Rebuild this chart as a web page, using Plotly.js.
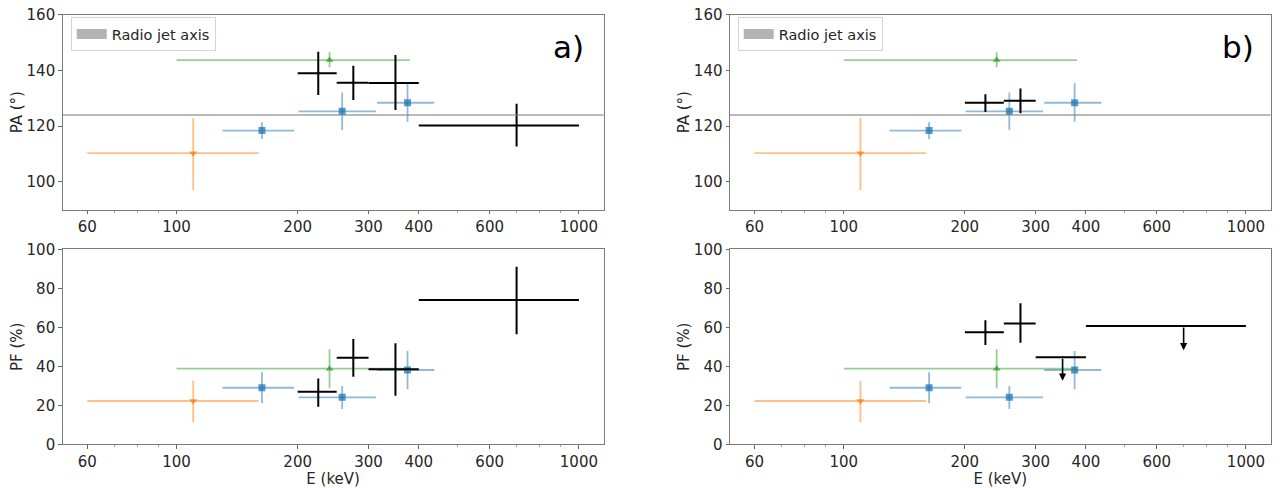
<!DOCTYPE html>
<html>
<head>
<meta charset="utf-8">
<script src="https://cdn.plot.ly/plotly-3.0.1.min.js"></script>
<style>html,body{margin:0;padding:0;background:#fff;}#chart{width:1288px;height:488px;}</style>
</head>
<body>
<div id="chart"></div>
<script>
// ---------------- data ----------------
// orange (down-triangle)
const E_or = [110], E_or_lo = [60], E_or_hi = [160];
const PA_or = [110.3], PA_or_up = [122.8], PA_or_dn = [97.1];
const PF_or = [22.2], PF_or_up = [32.6], PF_or_dn = [11.3];
// blue (squares)
const E_bl = [163, 258, 375], E_bl_lo = [130, 201, 315], E_bl_hi = [196, 313, 437];
const PA_bl = [118.4, 125.3, 128.4], PA_bl_up = [121.4, 132.1, 135.4], PA_bl_dn = [115.4, 118.6, 121.6];
const PF_bl = [29.0, 24.1, 38.1], PF_bl_up = [36.9, 29.9, 47.8], PF_bl_dn = [21.0, 18.1, 28.2];
// green (up-triangle)
const E_gr = [240], E_gr_lo = [100], E_gr_hi = [380];
const PA_gr = [143.7], PA_gr_up = [146.5], PA_gr_dn = [141.1];
const PF_gr = [38.8], PF_gr_up = [48.7], PF_gr_dn = [28.7];
// black, panel a)
const E_ka = [225, 275, 350, 700], E_ka_lo = [200, 250, 300, 400], E_ka_hi = [250, 300, 400, 1000];
const PA_ka = [139.0, 135.6, 135.5, 120.2], PA_ka_up = [146.7, 141.7, 145.5, 128.0], PA_ka_dn = [131.2, 129.4, 125.8, 112.7];
const PF_ka = [27.0, 44.4, 38.5, 74.0], PF_ka_up = [33.8, 54.0, 51.8, 91.1], PF_ka_dn = [19.3, 34.7, 24.9, 56.4];
// black, panel b)
const E_kb = [225, 275], E_kb_lo = [200, 250], E_kb_hi = [250, 300];
const PA_kb = [128.4, 129.1], PA_kb_up = [131.4, 133.5], PA_kb_dn = [125.1, 124.6];
const PF_kb = [57.4, 62.0], PF_kb_up = [63.6, 72.3], PF_kb_dn = [50.9, 52.1];
// black upper limits, panel b)
const E_ul = [350, 700], E_ul_lo = [300, 400], E_ul_hi = [400, 1000];
const PF_ul = [44.6, 60.7], PF_ul_arrow = [12.0, 12.5];
// radio jet axis
const JET_PA = 124;
const jetLabel = 'Radio jet axis';
const panelLabels = ['a)', 'b)'];
const xTickVals = [60, 100, 200, 300, 400, 600, 1000];
const xTickText = ['60', '100', '200', '300', '400', '600', '1000'];
const xMinorVals = [50, 70, 80, 90, 500, 700, 800, 900];
const paTicks = [100, 120, 140, 160];
const pfTicks = [0, 20, 40, 60, 80, 100];

// ---------------- styles ----------------
const FONT = 'DejaVu Sans, Liberation Sans, sans-serif';
const TXT = '#262626';
const C_BLUE = [31, 119, 180], C_ORANGE = [255, 127, 14], C_GREEN = [44, 160, 44];
const rgba = (c, a) => `rgba(${c[0]},${c[1]},${c[2]},${a})`;

function errTrace(E, lo, hi, V, up, dn, xa, ya, opt) {
  return {
    type: 'scatter', mode: 'markers', x: E, y: V, xaxis: xa, yaxis: ya, showlegend: false,
    marker: opt.marker,
    error_x: {type: 'data', symmetric: false, array: E.map((e, i) => hi[i] - e), arrayminus: E.map((e, i) => e - lo[i]),
      width: 0, thickness: opt.th, color: opt.ec},
    error_y: {type: 'data', symmetric: false, array: V.map((v, i) => up[i] - v), arrayminus: V.map((v, i) => v - dn[i]),
      width: 0, thickness: opt.th, color: opt.ec},
    hoverinfo: 'skip'
  };
}
const stOr = {marker: {symbol: 'triangle-down', size: 7, color: rgba(C_ORANGE, 0.75)}, th: 1.8, ec: rgba(C_ORANGE, 0.5)};
const stBl = {marker: {symbol: 'square', size: 7, color: rgba(C_BLUE, 0.75)}, th: 1.8, ec: rgba(C_BLUE, 0.5)};
const stGr = {marker: {symbol: 'triangle-up', size: 7, color: rgba(C_GREEN, 0.75)}, th: 1.8, ec: rgba(C_GREEN, 0.5)};
const stK = {marker: {symbol: 'circle', size: 2, color: '#000'}, th: 2, ec: '#000'};

const traces = [];
// panel a) PA (x, y)
traces.push(errTrace(E_or, E_or_lo, E_or_hi, PA_or, PA_or_up, PA_or_dn, 'x', 'y', stOr));
traces.push(errTrace(E_bl, E_bl_lo, E_bl_hi, PA_bl, PA_bl_up, PA_bl_dn, 'x', 'y', stBl));
traces.push(errTrace(E_gr, E_gr_lo, E_gr_hi, PA_gr, PA_gr_up, PA_gr_dn, 'x', 'y', stGr));
traces.push(errTrace(E_ka, E_ka_lo, E_ka_hi, PA_ka, PA_ka_up, PA_ka_dn, 'x', 'y', stK));
// panel b) PA (x2, y2)
traces.push(errTrace(E_or, E_or_lo, E_or_hi, PA_or, PA_or_up, PA_or_dn, 'x2', 'y2', stOr));
traces.push(errTrace(E_bl, E_bl_lo, E_bl_hi, PA_bl, PA_bl_up, PA_bl_dn, 'x2', 'y2', stBl));
traces.push(errTrace(E_gr, E_gr_lo, E_gr_hi, PA_gr, PA_gr_up, PA_gr_dn, 'x2', 'y2', stGr));
traces.push(errTrace(E_kb, E_kb_lo, E_kb_hi, PA_kb, PA_kb_up, PA_kb_dn, 'x2', 'y2', stK));
// panel a) PF (x3, y3)
traces.push(errTrace(E_or, E_or_lo, E_or_hi, PF_or, PF_or_up, PF_or_dn, 'x3', 'y3', stOr));
traces.push(errTrace(E_bl, E_bl_lo, E_bl_hi, PF_bl, PF_bl_up, PF_bl_dn, 'x3', 'y3', stBl));
traces.push(errTrace(E_gr, E_gr_lo, E_gr_hi, PF_gr, PF_gr_up, PF_gr_dn, 'x3', 'y3', stGr));
traces.push(errTrace(E_ka, E_ka_lo, E_ka_hi, PF_ka, PF_ka_up, PF_ka_dn, 'x3', 'y3', stK));
// panel b) PF (x4, y4)
traces.push(errTrace(E_or, E_or_lo, E_or_hi, PF_or, PF_or_up, PF_or_dn, 'x4', 'y4', stOr));
traces.push(errTrace(E_bl, E_bl_lo, E_bl_hi, PF_bl, PF_bl_up, PF_bl_dn, 'x4', 'y4', stBl));
traces.push(errTrace(E_gr, E_gr_lo, E_gr_hi, PF_gr, PF_gr_up, PF_gr_dn, 'x4', 'y4', stGr));
traces.push(errTrace(E_kb, E_kb_lo, E_kb_hi, PF_kb, PF_kb_up, PF_kb_dn, 'x4', 'y4', stK));
// upper limits: horizontal bars only (arrows added as annotations)
traces.push({
  type: 'scatter', mode: 'markers', x: E_ul, y: PF_ul, xaxis: 'x4', yaxis: 'y4', showlegend: false,
  marker: {size: 2, color: '#000'}, hoverinfo: 'skip',
  error_x: {type: 'data', symmetric: false, array: E_ul.map((e, i) => E_ul_hi[i] - e), arrayminus: E_ul.map((e, i) => e - E_ul_lo[i]),
    width: 0, thickness: 2, color: '#000'}
});
// legend entries (patch-like thick line)
traces.push({type: 'scatter', mode: 'lines', x: [null], y: [null], xaxis: 'x', yaxis: 'y', name: jetLabel,
  line: {color: 'rgba(128,128,128,0.6)', width: 11}, legend: 'legend', showlegend: true, hoverinfo: 'skip'});
traces.push({type: 'scatter', mode: 'lines', x: [null], y: [null], xaxis: 'x2', yaxis: 'y2', name: jetLabel,
  line: {color: 'rgba(128,128,128,0.6)', width: 11}, legend: 'legend2', showlegend: true, hoverinfo: 'skip'});

// ---------------- layout ----------------
const W = 1288, H = 488;
const xL = [62.7 / W, 603.5 / W], xR = [730 / W, 1270.5 / W];
const yT = [1 - 209.7 / H, 1 - 14.7 / H], yB = [1 - 444.3 / H, 1 - 249.3 / H];
const xRange = [Math.log10(60) - 0.0611, 3 + 0.0611];

function xAxis(domain, anchor, withTitle) {
  const a = {
    type: 'log', domain: domain, anchor: anchor, range: xRange,
    tickmode: 'array', tickvals: xTickVals, ticktext: xTickText,
    ticks: 'outside', ticklen: 3.5, tickwidth: 1, tickcolor: '#666',
    minor: {tickmode: 'array', tickvals: xMinorVals, ticks: 'outside', ticklen: 2, tickwidth: 0.8, tickcolor: '#888', showgrid: false},
    showgrid: false, zeroline: false, showline: true, linecolor: '#7a7a7a', linewidth: 1, mirror: true,
    tickfont: {family: FONT, size: 15, color: TXT}
  };
  if (withTitle) a.title = {text: 'E (keV)', font: {family: FONT, size: 15, color: TXT}, standoff: 6};
  return a;
}
function yAxis(domain, anchor, range, tv, title, standoff) {
  return {
    domain: domain, anchor: anchor, range: range, tickmode: 'array', tickvals: tv,
    ticks: 'outside', ticklen: 3.5, tickwidth: 1, tickcolor: '#666',
    showgrid: false, zeroline: false, showline: true, linecolor: '#7a7a7a', linewidth: 1, mirror: true,
    tickfont: {family: FONT, size: 15, color: TXT},
    title: {text: title, font: {family: FONT, size: 15, color: TXT}, standoff: standoff}
  };
}

const annotations = [
  {xref: 'paper', yref: 'paper', x: 568 / W, y: 1 - 47 / H, text: panelLabels[0], showarrow: false,
   xanchor: 'center', yanchor: 'middle', font: {family: FONT, size: 31, color: '#000'}},
  {xref: 'paper', yref: 'paper', x: 1238 / W, y: 1 - 47 / H, text: panelLabels[1], showarrow: false,
   xanchor: 'center', yanchor: 'middle', font: {family: FONT, size: 31, color: '#000'}}
];
E_ul.forEach((e, i) => {
  annotations.push({
    xref: 'x4', yref: 'y4', axref: 'x4', ayref: 'y4',
    x: Math.log10(e), y: PF_ul[i] - PF_ul_arrow[i], ax: Math.log10(e), ay: PF_ul[i],
    text: '', showarrow: true, arrowhead: 2, arrowsize: 0.9, arrowwidth: 1.6, arrowcolor: '#000'
  });
});

const shapes = [
  {type: 'line', xref: 'x domain', yref: 'y', x0: 0, x1: 1, y0: JET_PA, y1: JET_PA, line: {color: 'rgba(128,128,128,0.55)', width: 2}},
  {type: 'line', xref: 'x2 domain', yref: 'y2', x0: 0, x1: 1, y0: JET_PA, y1: JET_PA, line: {color: 'rgba(128,128,128,0.55)', width: 2}}
];

const legendStyle = (x) => ({
  x: x, y: 1 - 17 / H, xanchor: 'left', yanchor: 'top', xref: 'paper', yref: 'paper',
  bgcolor: 'rgba(255,255,255,0.85)', bordercolor: '#d4d4d4', borderwidth: 1,
  font: {family: FONT, size: 14.5, color: TXT}
});

const layout = {
  width: W, height: H, margin: {l: 0, r: 0, t: 0, b: 0},
  paper_bgcolor: '#fff', plot_bgcolor: '#fff',
  font: {family: FONT, color: TXT},
  xaxis: xAxis(xL, 'y', false),
  xaxis2: xAxis(xR, 'y2', false),
  xaxis3: xAxis(xL, 'y3', true),
  xaxis4: xAxis(xR, 'y4', true),
  yaxis: yAxis(yT, 'x', [90, 160], paTicks, 'PA (°)', 0),
  yaxis2: yAxis(yT, 'x2', [90, 160], paTicks, 'PA (°)', 0),
  yaxis3: yAxis(yB, 'x3', [0, 100], pfTicks, 'PF (%)', 0),
  yaxis4: yAxis(yB, 'x4', [0, 100], pfTicks, 'PF (%)', 0),
  legend: legendStyle(70.7 / W),
  legend2: legendStyle(737.7 / W),
  shapes: shapes,
  annotations: annotations,
  hovermode: false
};

Plotly.newPlot('chart', traces, layout, {displayModeBar: false, staticPlot: true});
</script>
</body>
</html>
